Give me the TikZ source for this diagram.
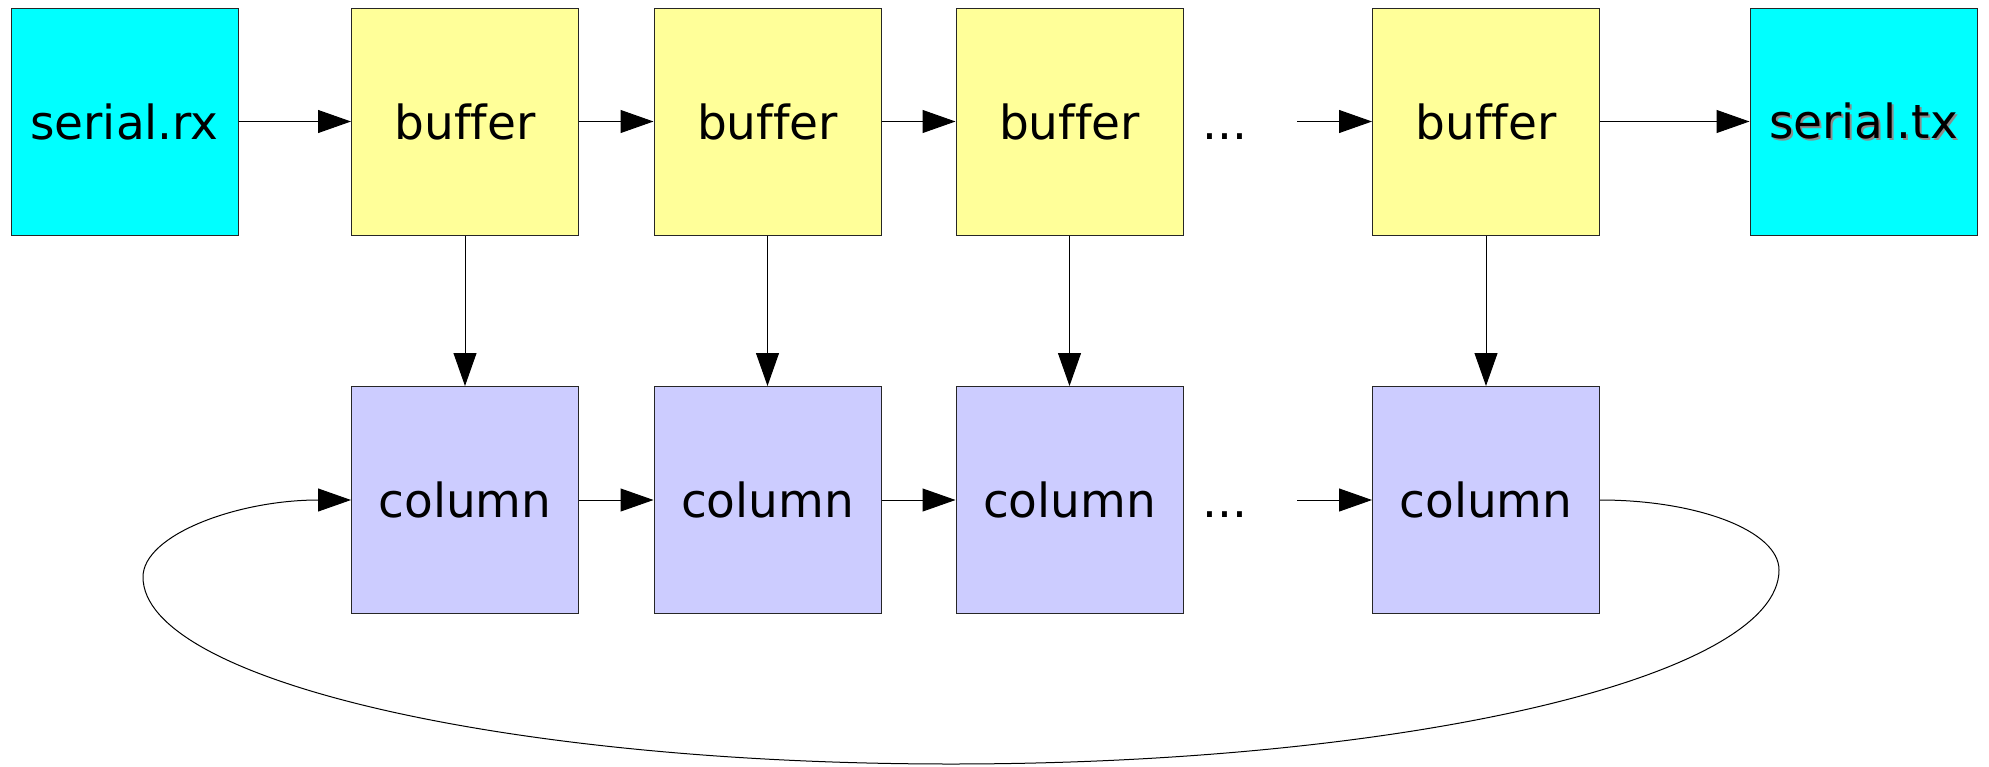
\documentclass[tikz,border=0pt]{standalone}
\usepackage{fontspec}
\setmainfont[Ligatures=NoCommon]{DejaVu Sans}
\usetikzlibrary{arrows.meta}
\definecolor{cyanbox}{HTML}{00FFFF}
\definecolor{yellowbox}{HTML}{FFFF99}
\definecolor{bluebox}{HTML}{CCCCFF}
\begin{document}
\begin{tikzpicture}[x=1pt,y=-1pt,
  box/.style={draw=black!85,line width=1pt,minimum width=227pt,minimum height=227pt,inner sep=0pt,font=\fontsize{47}{56}\selectfont},
  io/.style={box,fill=cyanbox},
  buf/.style={box,fill=yellowbox},
  col/.style={box,fill=bluebox},
  dots/.style={inner sep=0pt,font=\fontsize{47}{56}\selectfont},
  conn/.style={line width=1pt,-{Triangle[length=33pt,width=23pt]}}]
\useasboundingbox (0,0) rectangle (1989,766);
% top row
\node[io]  (rx) at (124.5,121.5) {serial.rx};
\node[buf] (b1) at (465,121.5) {buffer};
\node[buf] (b2) at (767.5,121.5) {buffer};
\node[buf] (b3) at (1069.5,121.5) {buffer};
\node[dots] (d1) at (1225,121.5) {\vphantom{b}...};
\coordinate (s1) at (1297,121.5);
\node[buf] (b4) at (1486,121.5) {buffer};
\node[io]  (tx) at (1863.5,121.5) {\makebox[0pt][l]{\hspace{2pt}\raisebox{-2pt}{\color{black!45}serial.tx}}serial.tx};
% bottom row
\node[col] (c1) at (465,500) {column};
\node[col] (c2) at (767.5,500) {column};
\node[col] (c3) at (1069.5,500) {column};
\node[dots] (d2) at (1225,500) {\vphantom{b}...};
\coordinate (s2) at (1297,500);
\node[col] (c4) at (1486,500) {column};
% connectors
\draw[conn] (rx) -- (b1);
\draw[conn] (b1) -- (b2);
\draw[conn] (b2) -- (b3);
\draw[conn] (s1) -- (b4);
\draw[conn] (b4) -- (tx);
\draw[conn] (b1) -- (c1);
\draw[conn] (b2) -- (c2);
\draw[conn] (b3) -- (c3);
\draw[conn] (b4) -- (c4);
\draw[conn] (c1) -- (c2);
\draw[conn] (c2) -- (c3);
\draw[conn] (s2) -- (c4);
\draw[conn] (c4.east) .. controls (1698,500) and (1779,531) .. (1779,570)
  .. controls (1779,677) and (1408,764) .. (951,764)
  .. controls (505,764) and (143,680) .. (143,577)
  .. controls (143,535) and (237,500) .. (c1.west);
\end{tikzpicture}
\end{document}
